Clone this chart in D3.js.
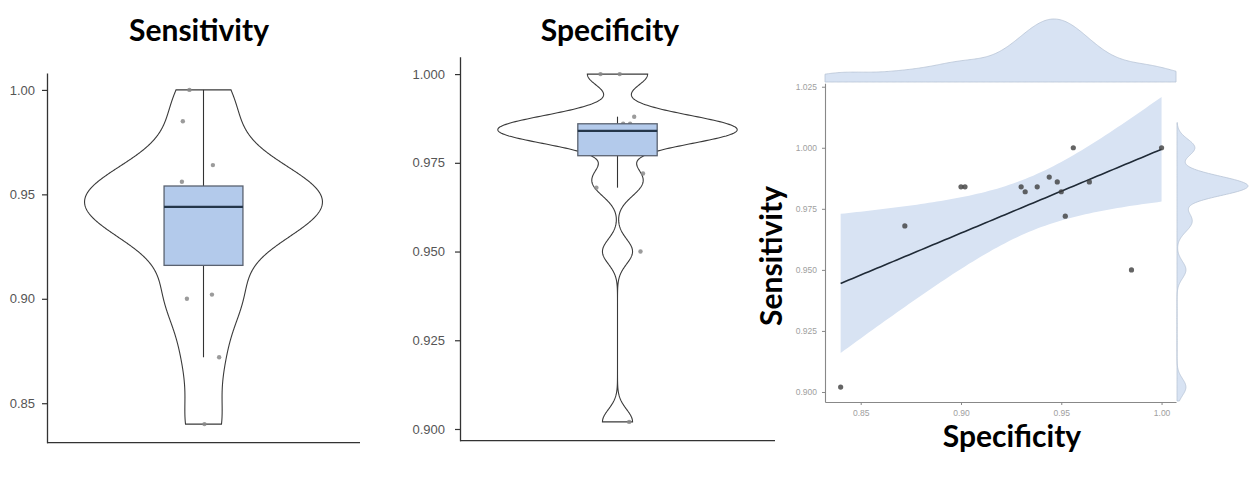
<!DOCTYPE html>
<html><head><meta charset="utf-8">
<script src="https://cdn.jsdelivr.net/npm/d3@7"></script>
<style>body{margin:0;background:#fff} svg{display:block}</style>
</head><body><svg id="c" width="1250" height="480"></svg>
<script>
// ---------- data ----------
const sensitivity = [0.840,0.872,0.900,0.902,0.930,0.932,0.938,0.944,0.948,0.950,0.952,0.956,0.964,0.985,1.000];
const specificity = [0.902,0.968,0.984,0.984,0.984,0.982,0.984,0.988,0.986,0.982,0.972,1.000,0.986,0.950,1.000];
// horizontal jitter of the raw points (fraction of the category band)
const jitterSens = [0.003,0.050,-0.053,0.027,0.02,-0.03,0.04,-0.01,0.06,-0.05,0.02,-0.069,0.030,-0.066,-0.045];
const jitterSpec = [0.037,-0.067,0.01,-0.04,0.05,-0.02,0.03,0.053,0.018,-0.06,0.081,-0.054,0.04,0.073,0.007];
const sensTicks = [0.85,0.90,0.95,1.00];
const specTicks = [0.900,0.925,0.950,0.975,1.000];
const scatterXTicks = [0.85,0.90,0.95,1.00];
const scatterYTicks = [0.900,0.925,0.950,0.975,1.000,1.025];
const panelTitles = ["Sensitivity","Specificity"];
const xLabel = "Specificity";
const yLabel = "Sensitivity";
const tCrit = 2.160; // t quantile, df = 13

// ---------- helpers ----------
function bwNrd0(v){
  const s = v.slice().sort(d3.ascending);
  const iqr = d3.quantile(s,0.75) - d3.quantile(s,0.25);
  return 0.9*Math.min(d3.deviation(v), iqr/1.34)*Math.pow(v.length,-0.2);
}
function kde(v,bw,lo,hi,n=400){
  const out=[];
  for(let i=0;i<=n;i++){
    const x=lo+(hi-lo)*i/n;
    let s=0; for(const d of v){const u=(x-d)/bw; s+=Math.exp(-0.5*u*u);}
    out.push([x,s/(v.length*bw*Math.sqrt(2*Math.PI))]);
  }
  return out;
}

const svg = d3.select("#c");
const titleFont = "Lato, 'Open Sans', sans-serif";
const tickFont = "'Liberation Sans', Arial, sans-serif";

// ---------- violin panels ----------
function violinPanel(opts){
  const {values, jitter, ticks, fmt, yDomain, yRange, xRange, title, titleX, tickPad} = opts;
  const g = svg.append("g");
  const y = d3.scaleLinear().domain(yDomain).range(yRange);
  const xb = d3.scaleBand().domain([title]).range(xRange);
  const cx = xb(title) + xb.bandwidth()/2;
  const bwd = xb.bandwidth();
  const sorted = values.slice().sort(d3.ascending);
  const bw = bwNrd0(values);
  const dens = kde(values,bw,sorted[0],sorted[sorted.length-1],512);
  const dmax = d3.max(dens,d=>d[1]);
  const hw = 0.38*bwd;
  const area = d3.area().y(d=>y(d[0]))
      .x0(d=>cx - d[1]/dmax*hw).x1(d=>cx + d[1]/dmax*hw);
  g.append("path").datum(dens).attr("d",area)
    .attr("fill","#fff").attr("stroke","#3a3a3a").attr("stroke-width",1.1);

  const q1=d3.quantile(sorted,0.25), med=d3.quantile(sorted,0.5), q3=d3.quantile(sorted,0.75);
  const iqr=q3-q1;
  const wLo=d3.min(sorted.filter(v=>v>=q1-1.5*iqr)), wHi=d3.max(sorted.filter(v=>v<=q3+1.5*iqr));
  g.append("line").attr("x1",cx).attr("x2",cx).attr("y1",y(wHi)).attr("y2",y(q3)).attr("stroke","#333").attr("stroke-width",1.1);
  g.append("line").attr("x1",cx).attr("x2",cx).attr("y1",y(q1)).attr("y2",y(wLo)).attr("stroke","#333").attr("stroke-width",1.1);

  g.selectAll("circle.pt").data(values).join("circle").attr("class","pt")
    .attr("cx",(d,i)=>cx + jitter[i]*bwd).attr("cy",d=>y(d)).attr("r",2.2)
    .attr("fill","#8a8a8a").attr("opacity",0.85);

  const bh = 0.126*bwd;
  g.append("rect").attr("x",cx-bh).attr("width",2*bh).attr("y",y(q3)).attr("height",y(q1)-y(q3))
    .attr("fill","#b3caeb").attr("stroke","#5a6270").attr("stroke-width",1.3);
  g.append("line").attr("x1",cx-bh).attr("x2",cx+bh).attr("y1",y(med)).attr("y2",y(med))
    .attr("stroke","#24364a").attr("stroke-width",2.4);

  const ax = g.append("g").attr("transform",`translate(${xRange[0]},0)`)
    .call(d3.axisLeft(y).tickValues(ticks).tickFormat(fmt).tickSize(5).tickSizeOuter(0).tickPadding(tickPad));
  ax.select(".domain").attr("stroke","#333").attr("stroke-width",1.3);
  ax.selectAll(".tick line").attr("stroke","#333").attr("stroke-width",1.2);
  ax.selectAll("text").attr("font-family",tickFont).attr("font-size",13).attr("fill","#555");
  g.append("line").attr("x1",xRange[0]).attr("x2",xRange[1]).attr("y1",yRange[0]).attr("y2",yRange[0])
    .attr("stroke","#333").attr("stroke-width",1.3);

  svg.append("text").attr("x",titleX).attr("y",41).attr("text-anchor","middle")
    .attr("font-family",titleFont).attr("font-weight",700).attr("font-size",30).attr("fill","#000").text(title);
}

violinPanel({values:sensitivity, jitter:jitterSens, ticks:sensTicks, fmt:d3.format(".2f"),
  yDomain:[0.8311,1.0081], yRange:[442.7,73], xRange:[47,360], title:panelTitles[0], titleX:199, tickPad:7});
violinPanel({values:specificity, jitter:jitterSpec, ticks:specTicks, fmt:d3.format(".3f"),
  yDomain:[0.8967,1.0049], yRange:[440.7,56.7], xRange:[460,775], title:panelTitles[1], titleX:610, tickPad:10});

// ---------- scatter with marginal densities ----------
const sx = d3.scaleLinear().domain([0.8322,1.0072]).range([825,1176]);
const sy = d3.scaleLinear().domain([0.8959,1.0264]).range([402,83.3]);
const gs = svg.append("g");

// regression + confidence band
const n = sensitivity.length;
const mx = d3.mean(sensitivity), my = d3.mean(specificity);
let sxy=0, sxx=0;
sensitivity.forEach((x,i)=>{sxy+=(x-mx)*(specificity[i]-my); sxx+=(x-mx)*(x-mx);});
const slope = sxy/sxx, icpt = my - slope*mx;
let ssr=0; sensitivity.forEach((x,i)=>{const r=specificity[i]-(icpt+slope*x); ssr+=r*r;});
const sRes = Math.sqrt(ssr/(n-2));
const xMin = d3.min(sensitivity), xMax = d3.max(sensitivity);
const band = d3.range(0,81).map(k=>{
  const x = xMin+(xMax-xMin)*k/80;
  const fit = icpt+slope*x;
  const se = sRes*Math.sqrt(1/n + (x-mx)*(x-mx)/sxx);
  return {x, fit, lo:fit-tCrit*se, hi:fit+tCrit*se};
});
gs.append("path").datum(band)
  .attr("d",d3.area().x(d=>sx(d.x)).y0(d=>sy(d.lo)).y1(d=>sy(d.hi)))
  .attr("fill","#d8e3f3");
gs.append("path").datum(band)
  .attr("d",d3.line().x(d=>sx(d.x)).y(d=>sy(d.fit)))
  .attr("fill","none").attr("stroke","#1f2a36").attr("stroke-width",1.6);

gs.selectAll("circle.sp").data(sensitivity).join("circle").attr("class","sp")
  .attr("cx",d=>sx(d)).attr("cy",(d,i)=>sy(specificity[i])).attr("r",2.6)
  .attr("fill","#3d3d3d").attr("opacity",0.8);

// axes
const axx = gs.append("g").attr("transform","translate(0,402)")
  .call(d3.axisBottom(sx).tickValues(scatterXTicks).tickFormat(d3.format(".2f")).tickSize(3).tickSizeOuter(0).tickPadding(5));
const axy = gs.append("g").attr("transform","translate(825,0)")
  .call(d3.axisLeft(sy).tickValues(scatterYTicks).tickFormat(d3.format(".3f")).tickSize(3).tickSizeOuter(0).tickPadding(5));
[axx,axy].forEach(a=>{
  a.select(".domain").attr("stroke","#888").attr("stroke-width",1.1);
  a.selectAll(".tick line").attr("stroke","#888");
  a.selectAll("text").attr("font-family",tickFont).attr("font-size",8.5).attr("fill","#a0a0a0");
});

// marginal densities
const topD = kde(sensitivity,bwNrd0(sensitivity),0.8322,1.0072,300);
const topMax = d3.max(topD,d=>d[1]);
gs.append("path").datum(topD)
  .attr("d",d3.area().x(d=>sx(d[0])).y0(82).y1(d=>82-63*d[1]/topMax))
  .attr("fill","#d8e3f3").attr("stroke","#b8c4d6").attr("stroke-width",0.8);
const rD = kde(specificity,bwNrd0(specificity),0.8963,1.0103,400);
const rMax = d3.max(rD,d=>d[1]);
gs.append("path").datum(rD)
  .attr("d",d3.area().y(d=>sy(d[0])).x0(1177).x1(d=>1177+71*d[1]/rMax))
  .attr("fill","#d8e3f3").attr("stroke","#b8c4d6").attr("stroke-width",0.8);

// labels
svg.append("text").attr("x",1012).attr("y",447).attr("text-anchor","middle")
  .attr("font-family",titleFont).attr("font-weight",700).attr("font-size",30).attr("fill","#000").text(xLabel);
svg.append("text").attr("transform","translate(782,256) rotate(-90)").attr("text-anchor","middle")
  .attr("font-family",titleFont).attr("font-weight",700).attr("font-size",30).attr("fill","#000").text(yLabel);
</script></body></html>
